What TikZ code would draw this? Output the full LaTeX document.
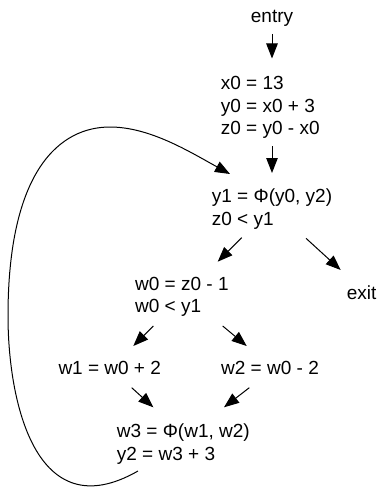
\documentclass[tikz,border=0pt]{standalone}
\usepackage{fontspec}
\setmainfont{Liberation Sans}
\usetikzlibrary{arrows.meta}
\begin{document}
\begin{tikzpicture}[x=1pt,y=-1pt,
  lbl/.style={inner sep=0pt, align=left, anchor=base west, font=\fontsize{19}{22.5}\selectfont},
  edge/.style={line width=1pt, -{Triangle[length=15pt,width=11.5pt]}}]
\useasboundingbox (0,0) rectangle (379,487);
% texts (multi-line nodes anchored at the baseline of their last line)
\node[lbl, anchor=base] (entry) at (272,23) {entry};
\node[lbl] (b1) at (220.7,134.5) {x0 = 13\\y0 = x0 + 3\\z0 = y0 - x0};
\node[lbl] (b2) at (211.7,225) {y1 = Φ(y0, y2)\\z0 < y1};
\node[lbl, anchor=base] (exit) at (361.7,299) {exit};
\node[lbl] (b3) at (135,312.5) {w0 = z0 - 1\\w0 < y1};
\node[lbl] (b4) at (58.3,374) {w1 = w0 + 2};
\node[lbl] (b5) at (221,374) {w2 = w0 - 2};
\node[lbl] (b6) at (116.7,460) {w3 = Φ(w1, w2)\\y2 = w3 + 3};
% connector ends
\coordinate (a1s) at (272,34);   \coordinate (a1e) at (272,58.5);
\coordinate (a2s) at (272,146);  \coordinate (a2e) at (272,173);
\coordinate (a3s) at (241.7,237.7); \coordinate (a3e) at (217.7,261.7);
\coordinate (a4s) at (306,238.3);   \coordinate (a4e) at (340.7,270);
\coordinate (a5s) at (153.3,326);   \coordinate (a5e) at (133.3,346);
\coordinate (a6s) at (222.7,326);   \coordinate (a6e) at (246.7,346);
\coordinate (a7s) at (131.7,387.7); \coordinate (a7e) at (153.3,407.3);
\coordinate (a8s) at (249.3,387.7); \coordinate (a8e) at (224,407.3);
\coordinate (ls) at (138,471); \coordinate (lm1) at (8,316); \coordinate (lm2) at (110,127); \coordinate (le) at (230,174);
% connectors
\draw[edge] (a1s) -- (a1e);
\draw[edge] (a2s) -- (a2e);
\draw[edge] (a3s) -- (a3e);
\draw[edge] (a4s) -- (a4e);
\draw[edge] (a5s) -- (a5e);
\draw[edge] (a6s) -- (a6e);
\draw[edge] (a7s) -- (a7e);
\draw[edge] (a8s) -- (a8e);
\draw[edge] (ls) .. controls (35,530) and (8,400) .. (lm1)
  .. controls (8,170) and (60,127) .. (lm2)
  .. controls (150,127) and (190,152) .. (le);
\end{tikzpicture}
\end{document}
